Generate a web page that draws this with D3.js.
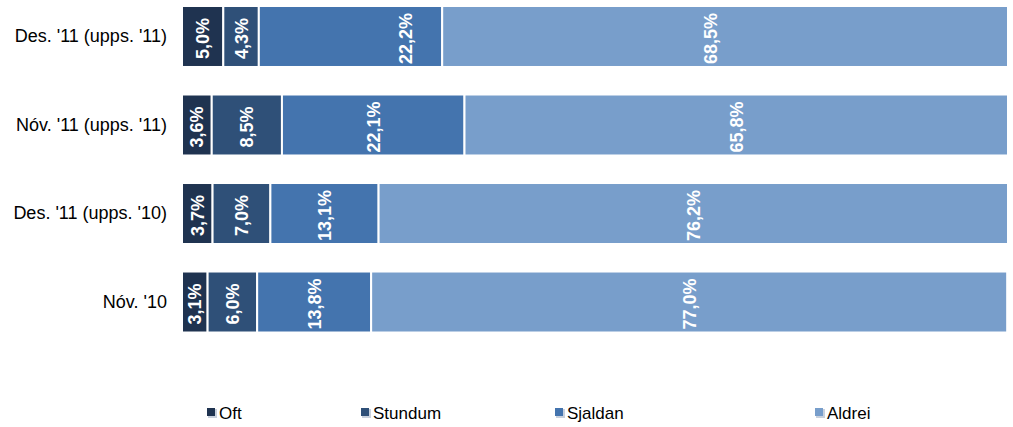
<!DOCTYPE html>
<html>
<head>
<meta charset="utf-8">
<script src="https://cdn.jsdelivr.net/npm/d3@7"></script>
<style>
  html, body { margin: 0; padding: 0; background: #fff; }
  svg { display: block; }
</style>
</head>
<body>
<svg id="chart" width="1013" height="427"></svg>
<script>
// ---- data ----
const categories = ["Des. '11 (upps. '11)", "Nóv. '11 (upps. '11)", "Des. '11 (upps. '10)", "Nóv. '10"];
const seriesNames = ["Oft", "Stundum", "Sjaldan", "Aldrei"];
const oft     = [5.0, 3.6, 3.7, 3.1];
const stundum = [4.3, 8.5, 7.0, 6.0];
const sjaldan = [22.2, 22.1, 13.1, 13.8];
const aldrei  = [68.5, 65.8, 76.2, 77.0];
const colors  = ["#1f3350", "#2f5078", "#4474ae", "#789ecb"];

// ---- build table ----
const rows = categories.map((c, i) => ({
  cat: c, Oft: oft[i], Stundum: stundum[i], Sjaldan: sjaldan[i], Aldrei: aldrei[i]
}));
const stacked = d3.stack().keys(seriesNames)(rows);

const svg = d3.select("#chart");
const x = d3.scaleLinear().domain([0, 100]).range([182, 1008]);
const y = d3.scaleBand().domain(categories).range([6, 332.5]).paddingInner(0.311).paddingOuter(0);
const color = d3.scaleOrdinal().domain(seriesNames).range(colors);

const fmt = v => d3.format(".1f")(v).replace(".", ",") + "%";

// manual label nudges (as in the original, where two labels were dragged)
const labelNudge = { "0|Sjaldan": 55, "0|Aldrei": -15 };

// bars
const layers = svg.append("g").selectAll("g").data(stacked).join("g")
  .attr("fill", d => color(d.key));
layers.selectAll("rect").data(d => d.map((p, i) => ({p, i, key: d.key}))).join("rect")
  .attr("x", d => x(d.p[0]))
  .attr("y", d => y(d.p.data.cat))
  .attr("width", d => x(d.p[1]) - x(d.p[0]))
  .attr("height", y.bandwidth())
  .attr("stroke", "#fff")
  .attr("stroke-width", 2);

// value labels
layers.selectAll("text").data(d => d.map((p, i) => ({p, i, key: d.key}))).join("text")
  .attr("transform", d => {
    const cx = (x(d.p[0]) + x(d.p[1])) / 2 + (labelNudge[d.i + "|" + d.key] || 0);
    const cy = y(d.p.data.cat) + y.bandwidth() / 2 + 2;
    return `translate(${cx},${cy}) rotate(-90)`;
  })
  .attr("text-anchor", "middle")
  .attr("dy", "0.36em")
  .attr("fill", "#fff")
  .attr("font-family", "'Liberation Sans', Arial, sans-serif")
  .attr("font-weight", "bold")
  .attr("font-size", 18)
  .text(d => fmt(d.p[1] - d.p[0]));

// category axis labels
const yAxis = d3.axisLeft(y).tickSize(0).tickPadding(0);
const ga = svg.append("g").attr("transform", "translate(167,0)").call(yAxis);
ga.select(".domain").remove();
ga.selectAll("text")
  .attr("font-family", "'Liberation Sans', Arial, sans-serif")
  .attr("font-size", 18)
  .attr("fill", "#000");

// legend
const legendX = [207, 361, 555, 815];
const lg = svg.append("g").selectAll("g").data(seriesNames).join("g")
  .attr("transform", (d, i) => `translate(${legendX[i]},408)`);
lg.append("rect").attr("x", 1).attr("y", 1).attr("width", 9).attr("height", 9).attr("fill", "#c9d1dd");
lg.append("rect").attr("x", 0).attr("y", 0).attr("width", 8).attr("height", 8).attr("fill", d => color(d));
lg.append("text")
  .attr("x", 12).attr("y", 5).attr("dy", "0.36em")
  .attr("font-family", "'Liberation Sans', Arial, sans-serif")
  .attr("font-size", 17)
  .attr("fill", "#000")
  .text(d => d);
</script>
</body>
</html>
